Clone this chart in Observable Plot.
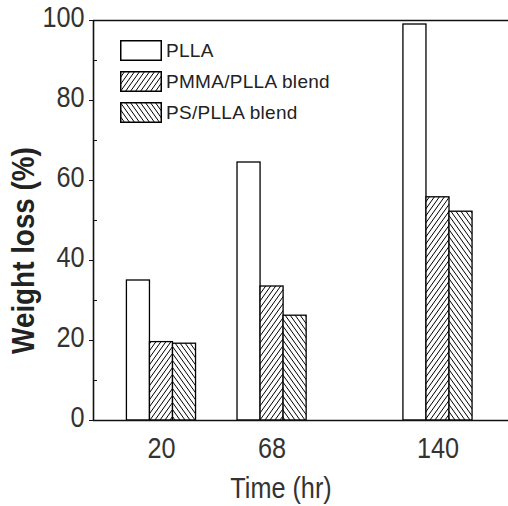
<!DOCTYPE html>
<html>
<head>
<meta charset="utf-8">
<script src="https://cdn.jsdelivr.net/npm/d3@7"></script>
<script src="https://cdn.jsdelivr.net/npm/@observablehq/plot@0.6"></script>
<style>
  html, body { margin: 0; padding: 0; background: white; }
  #wrap { position: relative; width: 508px; height: 506px; overflow: hidden; }
  .leg { position: absolute; left: 120px; height: 21px; display: flex; align-items: center;
         font-family: "Liberation Sans", Arial, sans-serif; font-size: 19px; color: #222; white-space: nowrap;
         letter-spacing: 0.3px; }
  .leg svg { display: block; margin-right: 4px; overflow: visible; }
</style>
</head>
<body>
<div id="wrap"></div>
<script>
// ---- data ----
const times = [20, 68, 140];
const seriesNames = ["PLLA", "PMMA/PLLA blend", "PS/PLLA blend"];
const pllaLoss = [35, 64.5, 99];
const pmmaLoss = [19.6, 33.5, 55.8];
const psLoss = [19.2, 26.2, 52.2];
const yMajorTicks = [0, 20, 40, 60, 80, 100];
const yMinorTicks = [10, 30, 50, 70, 90];

const fills = ["white", "url(#hatchFwd)", "url(#hatchBack)"];
const seriesValues = [pllaLoss, pmmaLoss, psLoss];
const barW = 10; // hours
const sans = '"Liberation Sans", Arial, sans-serif';
const xDomain = [-9.5, 170.6];

const barMarks = seriesValues.map((vals, s) =>
  Plot.rectY(times.map((t, i) => ({t, v: vals[i]})), {
    x1: d => d.t - 1.5 * barW + s * barW,
    x2: d => d.t - 0.5 * barW + s * barW,
    y1: 0,
    y2: d => d.v,
    fill: fills[s],
    stroke: "black",
    strokeWidth: 1.3
  })
);

const chart = Plot.plot({
  width: 508,
  height: 506,
  marginLeft: 93,
  marginRight: 0,
  marginTop: 20,
  marginBottom: 86,
  x: {domain: xDomain, axis: null},
  y: {domain: [0, 100], axis: null},
  style: {background: "white", fontFamily: sans, color: "#222"},
  marks: [
    ...barMarks,
    Plot.ruleY([0, 100], {stroke: "#111", strokeWidth: 1.6}),
    Plot.ruleX([xDomain[0]], {stroke: "#111", strokeWidth: 1.6}),
    Plot.axisY(yMajorTicks, {tickSize: 4, fill: "none", stroke: "#111", label: null}),
    Plot.axisY(yMinorTicks, {tickSize: -4, fill: "none", stroke: "#111", label: null}),
    Plot.axisY(yMajorTicks, {tickSize: 0, tickPadding: 9, dy: -3, fontSize: 29, fill: "#333", label: null}),
    Plot.axisX(times, {tickSize: 0, tickPadding: 17, fontSize: 29, fill: "#333", label: null}),
    Plot.text(["Weight loss (%)"], {frameAnchor: "left", textAnchor: "middle", lineAnchor: "middle",
      rotate: -90, dx: -70, dy: 30, ariaLabel: "ylabel",
      fontSize: 32, fontWeight: "bold", fill: "#222"}),
    Plot.text(["Time (hr)"], {frameAnchor: "bottom", textAnchor: "middle", lineAnchor: "middle",
      dx: -20, dy: 68, fontSize: 29, fill: "#333"})
  ]
});

// hatch patterns
const defs = d3.select(chart).insert("defs", ":first-child");
const pf = defs.append("pattern").attr("id", "hatchFwd").attr("patternUnits", "userSpaceOnUse")
  .attr("width", 5).attr("height", 7);
pf.append("rect").attr("width", 5).attr("height", 7).attr("fill", "white");
pf.append("path").attr("d", "M-5,7L0,0M0,7L5,0M5,7L10,0").attr("stroke", "black").attr("stroke-width", 1);
const pb = defs.append("pattern").attr("id", "hatchBack").attr("patternUnits", "userSpaceOnUse")
  .attr("width", 5).attr("height", 7);
pb.append("rect").attr("width", 5).attr("height", 7).attr("fill", "white");
pb.append("path").attr("d", "M-5,0L0,7M0,0L5,7M5,0L10,7").attr("stroke", "black").attr("stroke-width", 1);

const wrap = document.getElementById("wrap");
wrap.appendChild(chart);

// condense the axis texts (narrow face as in the reference)
chart.querySelectorAll("text").forEach(t => {
  if (t.closest('[aria-label="ylabel"]')) return;
  const w = t.getComputedTextLength();
  if (w > 0) {
    t.setAttribute("textLength", (w * 0.87).toFixed(2));
    t.setAttribute("lengthAdjust", "spacingAndGlyphs");
  }
});

// legend
seriesNames.forEach((name, s) => {
  const row = document.createElement("div");
  row.className = "leg";
  row.style.top = (40 + 31 * s) + "px";
  row.innerHTML = `<svg width="42" height="21"><rect x="0.75" y="0.75" width="40.5" height="19.5" fill="${fills[s]}" stroke="black" stroke-width="1.5"/></svg><span>${name}</span>`;
  wrap.appendChild(row);
});
</script>
</body>
</html>
